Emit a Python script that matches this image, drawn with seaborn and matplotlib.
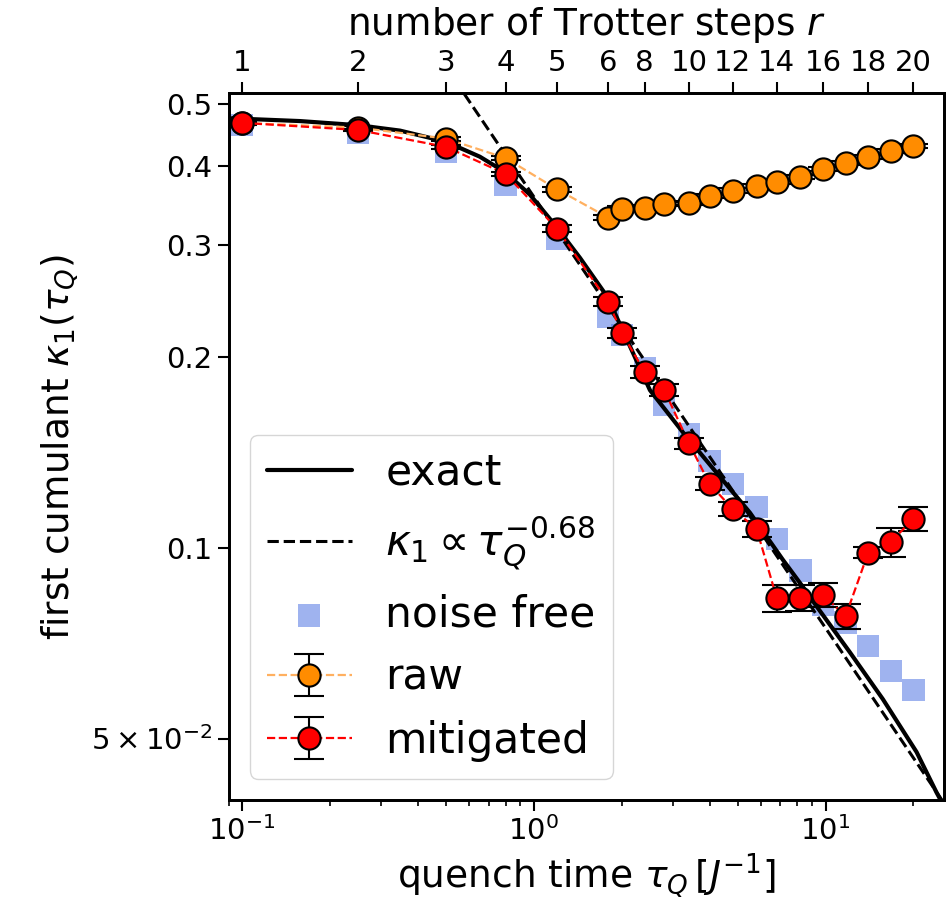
import matplotlib
matplotlib.use("Agg")
import matplotlib.pyplot as plt
import seaborn as sns
from matplotlib.ticker import NullLocator, LogLocator

# ---------------- data ----------------
trotter_steps = list(range(1, 21))
tau_q = [0.1, 0.25, 0.5, 0.8, 1.2, 1.8, 2.0, 2.4, 2.8, 3.4,
         4.0, 4.8, 5.8, 6.8, 8.2, 9.8, 11.7, 14.0, 16.7, 20.0]

kappa_raw = [0.467, 0.459, 0.441, 0.411, 0.367, 0.331, 0.342, 0.343, 0.348, 0.349,
             0.358, 0.365, 0.371, 0.377, 0.384, 0.395, 0.404, 0.413, 0.422, 0.430]
raw_err = [0.003, 0.003, 0.003, 0.003, 0.003, 0.003, 0.003, 0.003, 0.003, 0.003,
           0.003, 0.003, 0.003, 0.003, 0.003, 0.003, 0.003, 0.003, 0.003, 0.003]

kappa_mitigated = [0.467, 0.455, 0.428, 0.388, 0.318, 0.244, 0.218, 0.189, 0.177, 0.146,
                   0.126, 0.115, 0.107, 0.0832, 0.0834, 0.0843, 0.0779, 0.0982, 0.102, 0.111]
mitigated_err = [0.002, 0.002, 0.003, 0.003, 0.004, 0.004, 0.004, 0.004, 0.004, 0.003,
                 0.003, 0.003, 0.003, 0.0040, 0.0040, 0.0036, 0.0035, 0.0020, 0.0055, 0.0050]

kappa_noise_free = [0.464, 0.450, 0.421, 0.373, 0.306, 0.231, 0.216, 0.192, 0.168, 0.151,
                    0.137, 0.126, 0.116, 0.103, 0.092, 0.0813, 0.0762, 0.0699, 0.0638, 0.0596]

exact_tau = [0.0925, 0.1, 0.158, 0.25, 0.348, 0.5, 0.653, 0.794, 0.969, 1.19,
             1.44, 1.79, 2.50, 3.24, 4.24, 5.50, 7.13, 8.34, 9.31, 12.1,
             15.7, 20.5, 24.0, 25.3]
exact_kappa = [0.475, 0.474, 0.470, 0.463, 0.454, 0.436, 0.413, 0.391, 0.360, 0.321,
               0.286, 0.248, 0.177, 0.152, 0.131, 0.1135, 0.0957, 0.0868, 0.0808, 0.0684,
               0.0577, 0.0476, 0.0411, 0.0393]

fit_tau = [0.5, 25.5]
fit_kappa = [0.572, 0.0395]

top_tick_steps = [1, 2, 3, 4, 5, 6, 8, 10, 12, 14, 16, 18, 20]
ytick_values = [0.05, 0.1, 0.2, 0.3, 0.4, 0.5]
ytick_labels = [r"$5\times10^{-2}$", "0.1", "0.2", "0.3", "0.4", "0.5"]

# ---------------- style ----------------
sns.set_style("ticks")
plt.rcParams["font.family"] = ["DejaVu Sans"]
plt.rcParams["mathtext.fontset"] = "dejavusans"
plt.rcParams["axes.edgecolor"] = "black"
plt.rcParams["axes.linewidth"] = 2.0
plt.rcParams["text.color"] = "black"
plt.rcParams["axes.labelcolor"] = "black"
plt.rcParams["xtick.color"] = "black"
plt.rcParams["ytick.color"] = "black"
plt.rcParams["xtick.labelcolor"] = "black"
plt.rcParams["ytick.labelcolor"] = "black"
plt.rcParams["xtick.direction"] = "out"
plt.rcParams["ytick.direction"] = "out"

TICK_FS = 21
LABEL_FS = 27
LEGEND_FS = 30.5

fig = plt.figure(figsize=(9.49, 9.05), dpi=100)
ax = fig.add_axes([0.241, 0.116, 0.754, 0.781])
ax.set_xscale("log")
ax.set_yscale("log")

# noise free squares (bottom layer)
sns.scatterplot(x=tau_q, y=kappa_noise_free, ax=ax, marker="s", s=16 ** 2,
                color="royalblue", alpha=0.5, edgecolor="none", linewidth=0,
                label="noise free", zorder=1)

# exact curve
sns.lineplot(x=exact_tau, y=exact_kappa, ax=ax, color="black", linewidth=3,
             sort=False, estimator=None, label="exact", zorder=2)

# power-law fit
sns.lineplot(x=fit_tau, y=fit_kappa, ax=ax, color="black", linewidth=2.2,
             linestyle="--", sort=False, estimator=None,
             label=r"$\kappa_1 \propto \tau_Q^{-0.68}$", zorder=3)

# raw
ax.errorbar(tau_q, kappa_raw, yerr=raw_err, fmt="--o", color="#ffb060",
            lw=1.6, ms=16, mfc="darkorange", mec="black", mew=1.5,
            ecolor="black", elinewidth=1.5, capsize=11, capthick=1.5,
            label="raw", zorder=4)

# mitigated
ax.errorbar(tau_q, kappa_mitigated, yerr=mitigated_err, fmt="--o", color="red",
            lw=1.6, ms=16, mfc="red", mec="black", mew=1.5,
            ecolor="black", elinewidth=1.5, capsize=11, capthick=1.5,
            label="mitigated", zorder=5)

ax.set_xlim(0.09, 25.5)
ax.set_ylim(0.04, 0.52)

ax.set_yticks(ytick_values, labels=ytick_labels)
ax.yaxis.set_minor_locator(NullLocator())
ax.xaxis.set_major_locator(LogLocator(base=10))
ax.tick_params(axis="both", which="major", labelsize=TICK_FS, length=8, width=1.5)
ax.tick_params(axis="x", which="minor", length=4, width=1.2)

ax.set_xlabel(r"quench time $\tau_Q\,[J^{-1}]$", fontsize=LABEL_FS, labelpad=4)
ax.set_ylabel(r"first cumulant $\kappa_1(\tau_Q)$", fontsize=LABEL_FS, labelpad=8)

# top axis with number of Trotter steps
ax2 = ax.twiny()
ax2.set_xscale("log")
ax2.set_xlim(ax.get_xlim())
top_positions = [tau_q[r - 1] for r in top_tick_steps]
ax2.set_xticks(top_positions, labels=[str(r) for r in top_tick_steps])
ax2.xaxis.set_minor_locator(NullLocator())
ax2.tick_params(axis="x", which="major", labelsize=TICK_FS, length=8, width=1.5, pad=4)
ax2.set_xlabel(r"number of Trotter steps $r$", fontsize=LABEL_FS, labelpad=10)

# legend
h, l = ax.get_legend_handles_labels()
order = ["exact", r"$\kappa_1 \propto \tau_Q^{-0.68}$", "noise free", "raw", "mitigated"]
hd = dict(zip(l, h))
ax.legend([hd[k] for k in order], order, loc="lower left", fontsize=LEGEND_FS,
          frameon=True, borderaxespad=0.5)

fig.savefig("out.png", dpi=100)
